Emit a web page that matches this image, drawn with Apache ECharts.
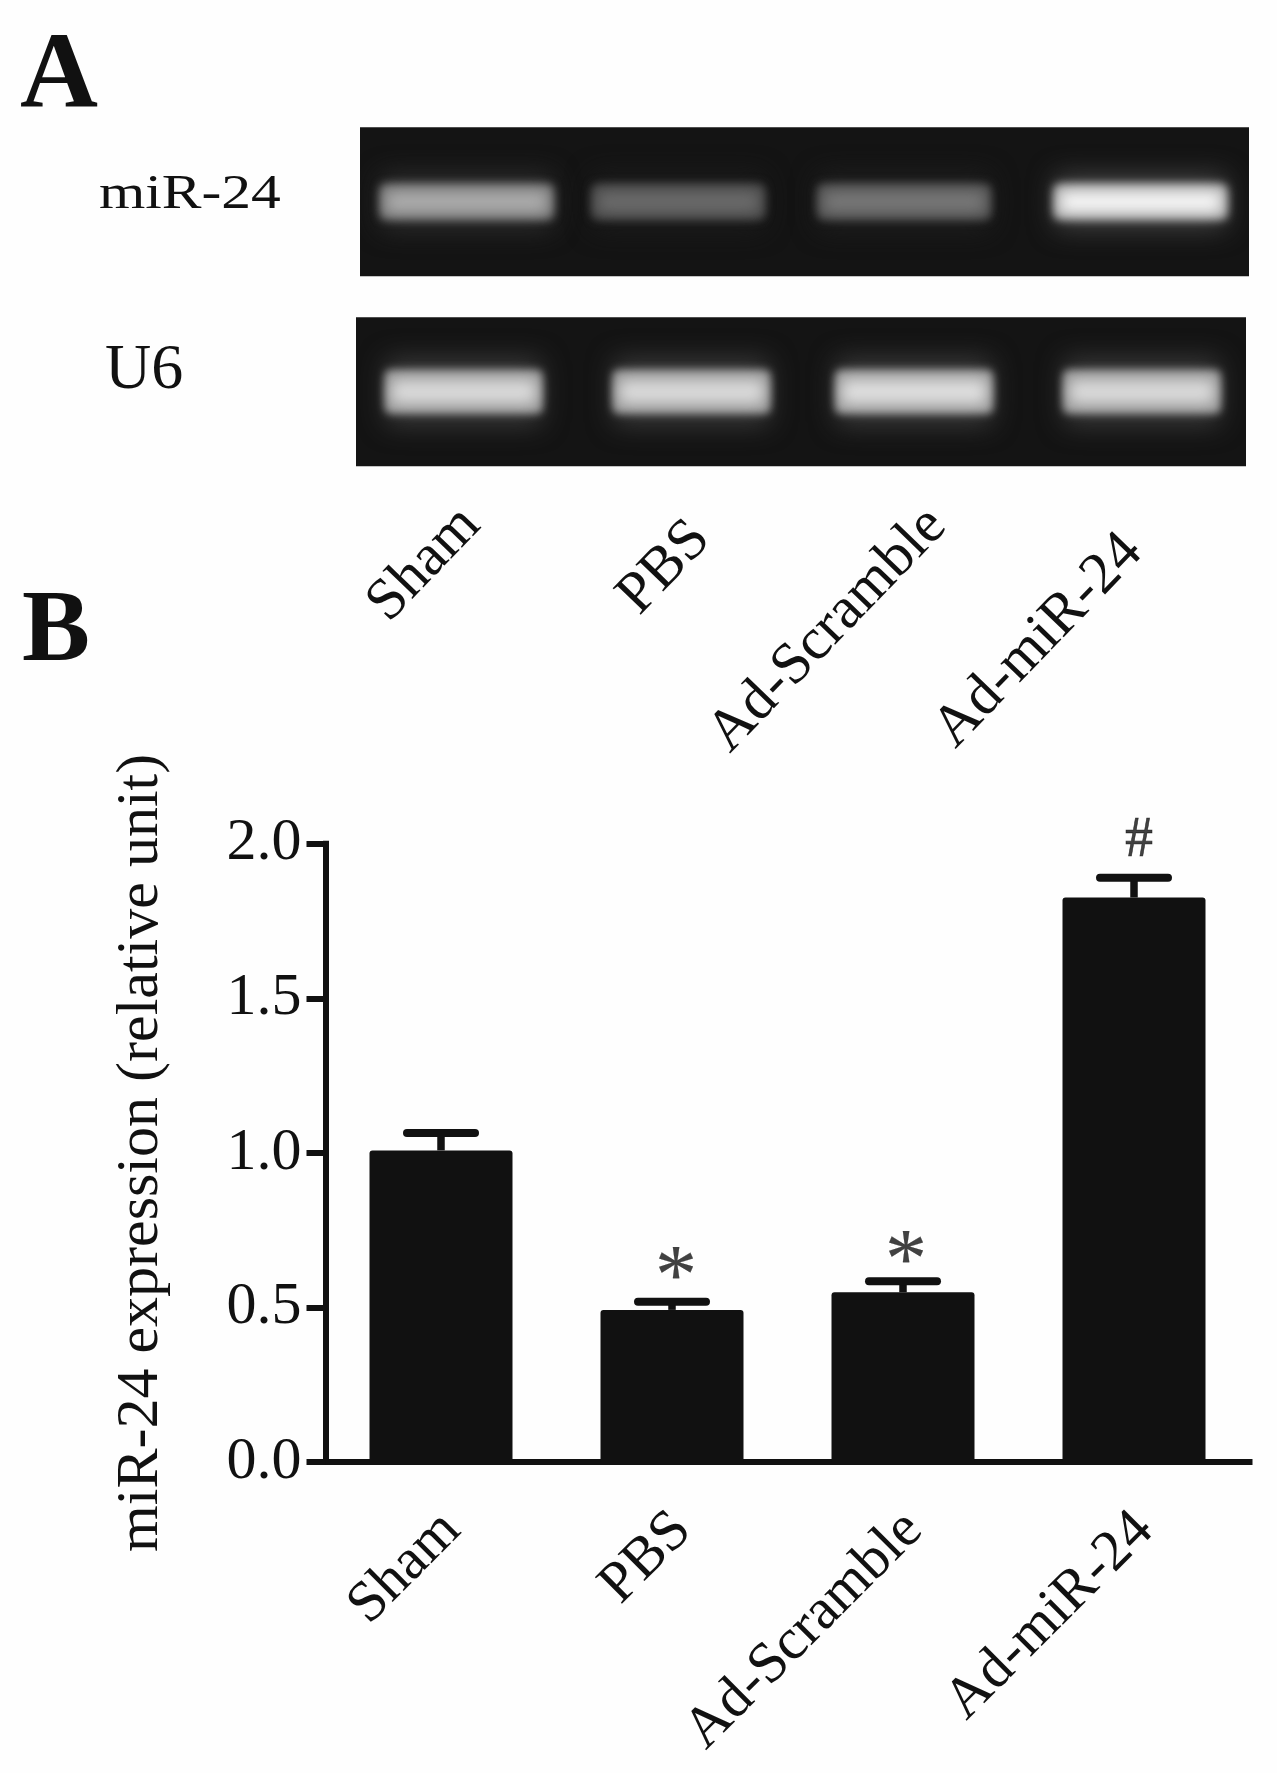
<!DOCTYPE html>
<html>
<head>
<meta charset="utf-8">
<style>html,body{margin:0;padding:0;background:#fefefe}#c{width:1277px;height:1773px}</style>
<script src="https://cdn.jsdelivr.net/npm/echarts@6/dist/echarts.min.js"></script>
</head>
<body>
<div id="c"></div>
<script>
const categories = ['Sham', 'PBS', 'Ad-Scramble', 'Ad-miR-24'];
const yTicks = [0, 0.5, 1, 1.5, 2];
const expression = [1.008, 0.492, 0.549, 1.826];
const errorTop = [1.064, 0.518, 0.585, 1.89];
const marks = ['', '*', '*', '#'];
const mirLanes = [0.12, 0.358, 0.612, 0.878];
const mirBrightness = [0.68, 0.42, 0.47, 0.97];
const u6Lanes = [0.121, 0.377, 0.627, 0.883];
const u6Brightness = [0.85, 0.85, 0.87, 0.85];

const SERIF = '"Liberation Serif", serif';
const INK = '#111111';
const gray = v => { const c = Math.round(v * 255); return `rgb(${c},${c},${c})`; };

// A soft band layer: only the blurred shadow of an off-canvas rectangle is visible.
function softRect(cx, cy, w, h, color, blur) {
  const away = 4000;
  return { type: 'rect', shape: { x: cx - w / 2 - away, y: cy - h / 2, width: w, height: h, r: 6 },
    style: { fill: '#000', shadowBlur: blur, shadowColor: color, shadowOffsetX: away } };
}

function laneItem(bandW, bandH, edgeBlur) {
  return function (params, api) {
    const p = api.coord([api.value(0), 0.5]);
    const v = api.value(1);
    const box = params.coordSys;
    return {
      type: 'group',
      clipPath: { type: 'rect', shape: { x: box.x, y: box.y, width: box.width, height: box.height } },
      children: [
        softRect(p[0], p[1], bandW - 4, bandH * 1.5, gray(v * 0.27), 26),
        softRect(p[0], p[1], bandW - 2, bandH, gray(v * 0.72), edgeBlur),
        softRect(p[0], p[1], bandW - 16, bandH * 0.55, gray(v), 14)
      ]
    };
  };
}

const upperEnds = [[471, 516], [701, 530], [937, 517], [1133, 543]];
const rot = 46 * Math.PI / 180;
const graphics = [
  { type: 'text', x: 20, y: 25, style: { text: 'A', font: 'bold 108px ' + SERIF, fill: INK } },
  { type: 'text', x: 22, y: 583, style: { text: 'B', font: 'bold 102px ' + SERIF, fill: INK } },
  { type: 'text', x: 99, y: 171, scaleX: 1.24, style: { text: 'miR-24', font: '48px ' + SERIF, fill: INK } },
  { type: 'text', x: 105, y: 339, style: { text: 'U6', font: '64px ' + SERIF, fill: INK } }
].concat(categories.map((c, i) => ({
  type: 'text', x: upperEnds[i][0], y: upperEnds[i][1], rotation: rot,
  style: { text: c, font: '59px ' + SERIF, fill: INK, align: 'right', verticalAlign: 'middle' }
})));

const option = {
  animation: false,
  backgroundColor: '#fefefe',
  textStyle: { fontFamily: SERIF },
  graphic: { elements: graphics },
  grid: [
    { left: 325.5, width: 924, top: 843.7, height: 618.3 },
    { left: 360, width: 889, top: 127.3, height: 149, show: true, backgroundColor: '#141414', borderWidth: 0 },
    { left: 356, width: 890, top: 317.3, height: 149, show: true, backgroundColor: '#141414', borderWidth: 0 }
  ],
  xAxis: [
    { type: 'category', gridIndex: 0, data: categories,
      axisLine: { lineStyle: { color: INK, width: 6, cap: 'square' } },
      axisTick: { alignWithLabel: true, length: 19, lineStyle: { color: INK, width: 6 } },
      axisLabel: { rotate: 45, interval: 0, margin: 70, fontSize: 58, color: INK, fontFamily: SERIF, padding: [0, -15, 0, 0] } },
    { type: 'value', gridIndex: 1, min: 0, max: 1, show: false },
    { type: 'value', gridIndex: 2, min: 0, max: 1, show: false }
  ],
  yAxis: [
    { type: 'value', gridIndex: 0, min: yTicks[0], max: yTicks[yTicks.length - 1], interval: 0.5,
      name: 'miR-24 expression (relative unit)', nameLocation: 'middle', nameRotate: 90, nameGap: 154,
      nameTextStyle: { fontSize: 60, color: INK, fontFamily: SERIF },
      splitLine: { show: false },
      axisLine: { show: true, lineStyle: { color: INK, width: 6, cap: 'square' } },
      axisTick: { show: true, length: 19, lineStyle: { color: INK, width: 6 } },
      axisLabel: { margin: 24, fontSize: 60, color: INK, fontFamily: SERIF, padding: [4, 0, 0, 0], formatter: v => v.toFixed(1) } },
    { type: 'value', gridIndex: 1, min: 0, max: 1, show: false },
    { type: 'value', gridIndex: 2, min: 0, max: 1, show: false }
  ],
  series: [
    { type: 'bar', xAxisIndex: 0, yAxisIndex: 0, data: expression, barWidth: 143,
      itemStyle: { color: INK, borderRadius: [3, 3, 0, 0] } },
    { type: 'custom', xAxisIndex: 0, yAxisIndex: 0,
      data: categories.map((c, i) => [i, expression[i], errorTop[i]]),
      renderItem: (params, api) => {
        const top = api.coord([api.value(0), api.value(2)]);
        const base = api.coord([api.value(0), api.value(1)]);
        return { type: 'group', children: [
          { type: 'line', shape: { x1: top[0], y1: top[1], x2: base[0], y2: base[1] }, style: { stroke: INK, lineWidth: 7.5 } },
          { type: 'line', shape: { x1: top[0] - 34, y1: top[1], x2: top[0] + 34, y2: top[1] }, style: { stroke: INK, lineWidth: 8, lineCap: 'round' } }
        ] };
      } },
    { type: 'scatter', xAxisIndex: 0, yAxisIndex: 0, symbolSize: 0, silent: true,
      data: categories.map((c, i) => ({
        value: [i, errorTop[i]],
        label: { show: !!marks[i], formatter: marks[i], position: 'top', color: INK, fontFamily: SERIF,
          fontSize: marks[i] === '#' ? 56 : 84,
          textBorderColor: INK, textBorderWidth: marks[i] === '*' ? 0.2 : 0.6,
          offset: marks[i] === '#' ? [5, -3] : (i === 1 ? [4, 26] : [3, 31]) }
      })) },
    { type: 'custom', xAxisIndex: 1, yAxisIndex: 1, silent: true,
      data: mirLanes.map((x, i) => [x, mirBrightness[i]]), renderItem: laneItem(176, 36, 10) },
    { type: 'custom', xAxisIndex: 2, yAxisIndex: 2, silent: true,
      data: u6Lanes.map((x, i) => [x, u6Brightness[i]]), renderItem: laneItem(160, 44, 8) }
  ]
};
echarts.init(document.getElementById('c')).setOption(option);
</script>
</body>
</html>
